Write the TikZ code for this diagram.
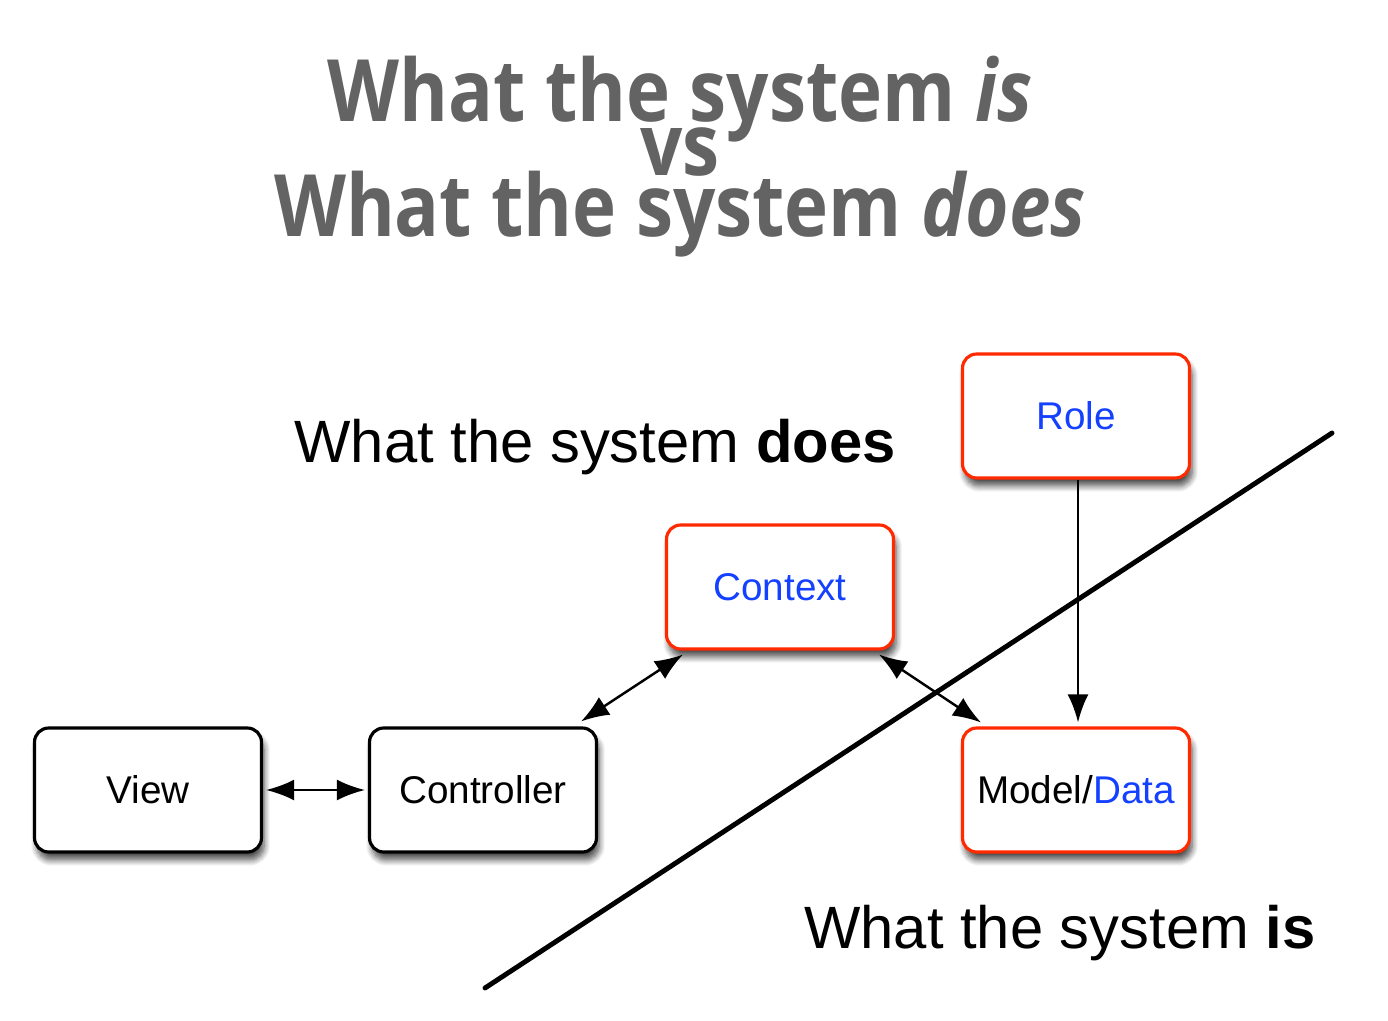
\documentclass[tikz,border=0pt]{standalone}
\usepackage{fontspec}
\setmainfont{Liberation Sans}
\newfontfamily\titlefont{Open Sans}
\usetikzlibrary{arrows.meta,calc,shadows.blur}
\definecolor{titlegray}{HTML}{636363}
\definecolor{boxred}{HTML}{FF2A00}
\definecolor{txtblue}{HTML}{1440FF}
\tikzset{
  box/.style={draw=black, line width=1.8pt, rounded corners=8pt, fill=white,
    minimum width=4.54cm, minimum height=2.48cm, inner sep=0pt,
    font=\fontsize{22}{26}\selectfont,
    blur shadow={shadow xshift=1.5pt, shadow yshift=-4.5pt, shadow blur steps=8, shadow opacity=70, shadow blur radius=3.5pt}},
  redbox/.style={box, draw=boxred},
  conn/.style={line width=1.4pt, {Latex[length=16pt,width=12pt]}-{Latex[length=16pt,width=12pt]}},
  oneway/.style={line width=1.4pt, -{Latex[length=16pt,width=12pt]}},
  title/.style={text=titlegray, font=\titlefont\bfseries\fontsize{49}{53}\selectfont, anchor=base, inner sep=0pt, xscale=0.865, transform shape},
  label/.style={font=\fontsize{34}{38}\selectfont, anchor=base, inner sep=0pt}
}
\begin{document}
\begin{tikzpicture}[x=0.02cm, y=-0.02cm]
\useasboundingbox (0,0) rectangle (1388,1020);
% title
\node[title] (t1) at (680,122) {What the system \textit{is}};
\node[title] (t2) at (680,176) {vs};
\node[title] (t3) at (680,237) {What the system \textit{does}};
% labels
\node[label] (ldoes) at (595,462) {What the system \textbf{does}};
\node[label] (lis) at (1060,948) {What the system \textbf{is}};
% diagonal line
\coordinate (d1) at (485,988);
\coordinate (d2) at (1332,433);
\draw[line width=2.8pt, line cap=round] (d1) -- (d2);
% boxes
\node[box] (view) at (148,790) {View};
\node[box] (ctrl) at (483,790) {Controller};
\node[redbox] (ctx) at (780,587) {\textcolor{txtblue}{Context}};
\node[redbox] (role) at (1076,416) {\textcolor{txtblue}{Role}};
\node[redbox] (model) at (1076,790) {Model/\textcolor{txtblue}{Data}};
% connectors
\draw[conn] ($(view.east)+(3,0)$) -- ($(ctrl.west)+(-3,0)$);
\draw[conn] ($(ctrl.north east)+(-17,-5)$) -- ($(ctx.south west)+(18,4)$);
\draw[conn] ($(ctx.south east)+(-16,4)$) -- ($(model.north west)+(20,-4)$);
\draw[oneway] ($(role.south)+(2,0)$) -- ($(model.north)+(2,-4)$);
\end{tikzpicture}
\end{document}
